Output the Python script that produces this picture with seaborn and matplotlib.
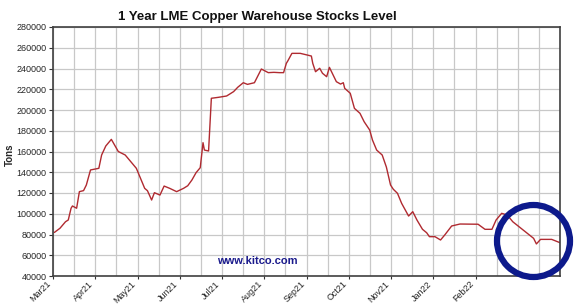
import matplotlib
matplotlib.use("Agg")
import matplotlib.pyplot as plt
import seaborn as sns
import pandas as pd
import numpy as np
from matplotlib.patches import Ellipse

# ---- data (day offset within the 1-year window, stocks in tons) ----
days = [1, 5, 9, 11, 13, 14, 17, 19, 22, 24, 27, 33, 35, 38, 42, 47, 52, 55, 60, 66,
        68, 71, 73, 77, 80, 84, 89, 94, 97, 100, 103, 106, 108, 109, 112, 114, 119, 125,
        130, 133, 137, 140, 145, 150, 155, 159, 163, 166, 168, 169, 172, 178, 183, 186,
        187, 189, 192, 194, 197, 199, 202, 204, 207, 209, 210, 214, 217, 221, 224, 228,
        230, 233, 237, 240, 243, 245, 248, 251, 256, 259, 262, 266, 269, 271, 275, 279,
        282, 287, 293, 306, 311, 316, 319, 323, 327, 331, 340, 346, 348, 351, 359, 365]
tons = [82000, 86000, 92300, 94000, 105300, 107500, 105300, 121300, 122300, 127700,
        142200, 143800, 156600, 165300, 171700, 160000, 156600, 151800, 143800, 124500,
        122200, 113250, 120300, 118000, 126700, 124500, 121300, 124500, 127000, 132500,
        139600, 144400, 168500, 161400, 160500, 211300, 212200, 213500, 217700, 221900,
        226300, 224700, 226300, 239500, 236000, 236300, 236000, 236000, 245000, 247200,
        254600, 254600, 253000, 252000, 245000, 236900, 240200, 235400, 232100, 241100,
        232800, 227300, 225000, 226300, 220900, 216100, 201600, 196800, 188700, 180700,
        171000, 161400, 156600, 145000, 127700, 123600, 119700, 110000, 97800, 102000,
        94000, 85000, 81700, 77900, 77900, 74700, 79500, 88200, 90100, 89900, 85000,
        85000, 94000, 100400, 98800, 92300, 82700, 76300, 70900, 75300, 75300, 72100]
month_labels = ["Mar21", "Apr21", "May21", "Jun21", "Jul21", "Aug21", "Sep21",
                "Oct21", "Nov21", "Jan22", "Feb22"]
y_ticks = list(range(40000, 280001, 20000))

df = pd.DataFrame({"day": days, "tons": tons})

sns.set_theme(style="white")
plt.rcParams["font.family"] = ["Liberation Sans", "DejaVu Sans"]

fig = plt.figure(figsize=(5.78, 3.07), dpi=100)
ax = fig.add_axes([53 / 578, 1 - 276 / 307, 507 / 578, 249 / 307])

sns.lineplot(data=df, x="day", y="tons", ax=ax, color="#b02a30", linewidth=1.0)

span = 365.0
unit = span / 24
ax.set_xlim(0, span)
ax.set_ylim(40000, 280000)
ax.set_xticks([i * unit for i in range(0, 2 * len(month_labels), 2)])
ax.set_xticklabels(month_labels, rotation=45, ha="right", va="top", fontsize=6.5)
ax.set_xticks([i * unit for i in range(25)], minor=True)
ax.set_yticks(y_ticks)
ax.set_yticklabels([str(v) for v in y_ticks], fontsize=6.5)

ax.grid(True, which="both", axis="x", color="#c8c8c8", linewidth=0.9)
ax.grid(True, which="major", axis="y", color="#c8c8c8", linewidth=0.9)
ax.set_axisbelow(True)

ax.tick_params(axis="y", which="major", direction="out", length=3, width=0.8,
               color="#333333", pad=1.5, left=True)
ax.tick_params(axis="x", which="major", direction="out", length=2, width=0.8,
               color="#333333", pad=0.5, bottom=True)
ax.tick_params(axis="x", which="minor", length=0)
for s in ax.spines.values():
    s.set_color("#404040")
    s.set_linewidth(1.2)

ax.set_xlabel("")
ax.set_ylabel("Tons", fontsize=7, fontweight="bold")
ax.yaxis.set_label_coords((15 - 53) / 507, (276 - 155) / 249)

fig.text(257 / 578, 1 - 17 / 307, "1 Year LME Copper Warehouse Stocks Level",
         ha="center", va="center", fontsize=9.5, fontweight="bold", color="#111111")

ax.text((257 - 53) / 507, (276 - 261.5) / 249, "www.kitco.com", transform=ax.transAxes,
        ha="center", va="center", fontsize=8, fontweight="bold", color="#1a1a8c")

ell = Ellipse(((533.5 - 53) / 507, (276 - 241) / 249), 73 / 507, 72 / 249,
              transform=ax.transAxes, fill=False, edgecolor="#0d1a8c", linewidth=4.5,
              clip_on=False, zorder=5)
ax.add_patch(ell)

fig.savefig("out.png", dpi=100, facecolor="white")
